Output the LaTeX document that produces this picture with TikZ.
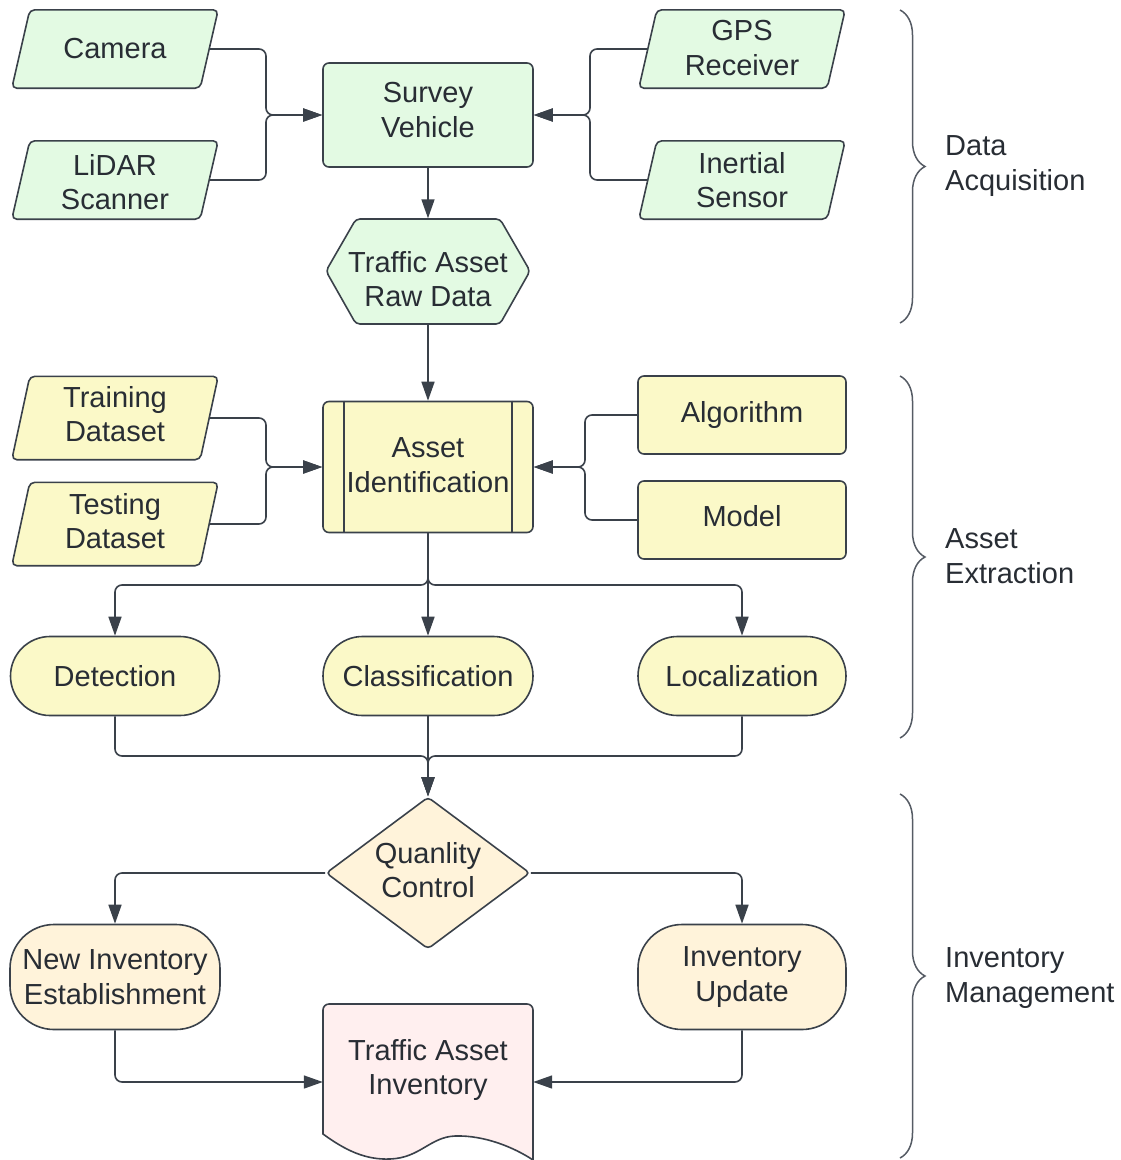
\documentclass[tikz,border=0pt]{standalone}
\usepackage{fontspec}
\setmainfont{Liberation Sans}
\usetikzlibrary{shapes.geometric,shapes.misc,arrows.meta,decorations.pathreplacing,backgrounds}
\definecolor{lc}{RGB}{58,65,74}
\definecolor{tc}{RGB}{40,45,52}
\definecolor{bc}{RGB}{85,91,100}
\definecolor{gfill}{RGB}{227,250,227}
\definecolor{yfill}{RGB}{251,249,200}
\definecolor{ofill}{RGB}{255,243,218}
\definecolor{pfill}{RGB}{255,239,239}
\newcommand\fsz{\fontsize{29}{34.5}\selectfont}
\newcommand\parab[2]{\filldraw[shp, fill=#2, rounded corners=5pt]
  ([xshift=-9pt]#1.south west) -- ([xshift=-9pt]#1.south east) --
  ([xshift=9pt]#1.north east) -- ([xshift=9pt]#1.north west) -- cycle;}
\begin{document}
\begin{tikzpicture}[x=1pt,y=-1pt,
  shp/.style={draw=lc, line width=1.6pt},
  txt/.style={text=tc, font=\fsz, align=center, inner sep=0pt},
  box/.style={shp, txt},
  lab/.style 2 args={label={[txt, yshift=#1]center:{#2}}},
  rbox/.style={box, rectangle, rounded corners=6pt},
  para/.style={txt, rectangle, minimum width=188pt, minimum height=78pt},
  stad/.style={box, rounded rectangle, minimum height=79pt},
  tall/.style={box, rectangle, rounded corners=44pt, minimum height=105pt},
  arr/.style={draw=lc, line width=1.6pt, rounded corners=7pt, -{Triangle[length=19pt,width=13pt]}},
  brc/.style={draw=bc, line width=1.5pt, decorate, decoration={brace, amplitude=25pt}},
  lbl/.style={text=tc, font=\fsz, align=left, anchor=west, inner sep=0pt}]
\useasboundingbox (0,0) rectangle (1120,1160);

% ---------- Data acquisition ----------
\node[para] (cam) at (115,49) {Camera};
\node[para, lab={-2pt}{LiDAR\\Scanner}] (lid) at (115,180) {};
\node[para, lab={1pt}{GPS\\Receiver}] (gps) at (742,49) {};
\node[para] (ins) at (742,180) {Inertial\\Sensor};
\node[rbox, fill=gfill, minimum width=210pt, minimum height=104pt, lab={5pt}{Survey\\Vehicle}] (sv) at (428,115) {};
\filldraw[shp, fill=gfill, rounded corners=4pt] (326,271) -- (356,219) -- (500,219) -- (530,271) -- (500,324) -- (356,324) -- cycle;
\node[txt, minimum width=204pt, minimum height=105pt, lab={-8pt}{Traffic Asset\\Raw Data}] (raw) at (428,271) {};

% ---------- Asset extraction ----------
\node[rbox, fill=yfill, minimum width=210pt, minimum height=131pt, lab={2pt}{Asset\\Identification}] (ai) at (428,467) {};
\draw[shp] ([xshift=22pt]ai.north west) -- ([xshift=22pt]ai.south west);
\draw[shp] ([xshift=-22pt]ai.north east) -- ([xshift=-22pt]ai.south east);
\node[para, minimum height=83pt, lab={4pt}{Training\\Dataset}] (trn) at (115,418) {};
\node[para, minimum height=83pt, lab={3pt}{Testing\\Dataset}] (tst) at (115,524) {};
\node[rbox, fill=yfill, minimum width=208pt, minimum height=78pt] (alg) at (742,415) {Algorithm};
\node[rbox, fill=yfill, minimum width=208pt, minimum height=78pt, lab={4pt}{Model}] (mdl) at (742,520) {};
\node[stad, fill=yfill, minimum width=209pt] (det) at (115,676) {Detection};
\node[stad, fill=yfill, minimum width=210pt] (cls) at (428,676) {Classification};
\node[stad, fill=yfill, minimum width=208pt] (loc) at (742,676) {Localization};
\begin{scope}[on background layer]
  \parab{cam}{gfill}
  \parab{lid}{gfill}
  \parab{gps}{gfill}
  \parab{ins}{gfill}
  \parab{trn}{yfill}
  \parab{tst}{yfill}
\end{scope}

% ---------- Inventory management ----------
\node[box, diamond, aspect=1.34, fill=ofill, minimum width=204pt, minimum height=152pt, rounded corners=4pt, lab={3pt}{Quanlity\\Control}] (qc) at (428,873) {};
\node[tall, fill=ofill, minimum width=210pt] (new) at (115,977) {New Inventory\\Establishment};
\node[tall, fill=ofill, minimum width=208pt] (upd) at (742,977) {Inventory\\Update};
\filldraw[shp, fill=pfill] (323,1134) [rounded corners=6pt] -- (323,1004) -- (533,1004) [sharp corners] -- (533,1160)
  .. controls (515,1148) and (485,1135) .. (455,1136)
  .. controls (430,1137) and (420,1158) .. (390,1159)
  .. controls (365,1160) and (345,1150) .. (323,1134) -- cycle;
\node[txt, minimum width=210pt, minimum height=30pt] (doc) at (428,1070) {Traffic Asset\\Inventory};

% ---------- connectors ----------
\coordinate (j1) at (266,115);
\coordinate (j2) at (590,115);
\coordinate (j3) at (266,467);
\coordinate (j4) at (585,467);
\coordinate (sp) at (428,585);
\coordinate (mg) at (428,756);
\draw[arr] (cam.east) -| (j1) -- (sv.west);
\draw[arr] (lid.east) -| (j1) -- (sv.west);
\draw[arr] (gps.west) -| (j2) -- (sv.east);
\draw[arr] (ins.west) -| (j2) -- (sv.east);
\draw[arr] (sv.south) -- (raw.north);
\draw[arr] (raw.south) -- (ai.north);
\draw[arr] (trn.east) -| (j3) -- (ai.west);
\draw[arr] (tst.east) -| (j3) -- (ai.west);
\draw[arr] (alg.west) -| (j4) -- (ai.east);
\draw[arr] (mdl.west) -| (j4) -- (ai.east);
\draw[arr] (ai.south) -- (sp) -| (det.north);
\draw[arr] (ai.south) -- (cls.north);
\draw[arr] (ai.south) -- (sp) -| (loc.north);
\draw[arr] (det.south) |- (mg) -- (qc.north);
\draw[arr] (cls.south) -- (qc.north);
\draw[arr] (loc.south) |- (mg) -- (qc.north);
\draw[arr] (qc.west) -| (new.north);
\draw[arr] (qc.east) -| (upd.north);
\draw[arr] (new.south) |- ([yshift=-12pt]doc.west);
\draw[arr] (upd.south) |- ([yshift=-12pt]doc.east);

% ---------- braces ----------
\draw[brc] (900,10) -- (900,323);
\draw[brc] (900,376) -- (900,738);
\draw[brc] (900,794) -- (900,1158);
\node[lbl] (lda) at (945,166) {Data\\Acquisition};
\node[lbl] (lae) at (945,556) {Asset\\Extraction};
\node[lbl] (lim) at (945,978) {Inventory\\Management};
\end{tikzpicture}
\end{document}
